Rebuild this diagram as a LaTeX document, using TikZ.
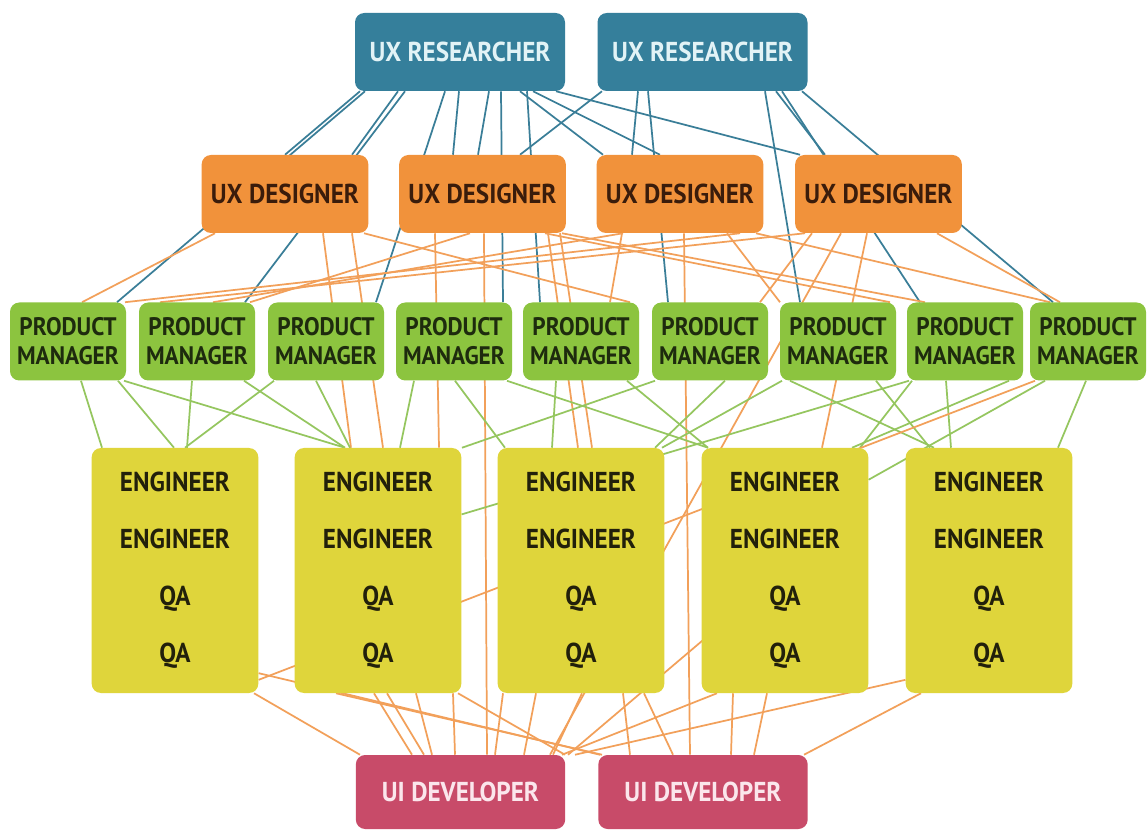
\documentclass[tikz,border=0pt]{standalone}
\usepackage{fontspec}
\newfontfamily\boxfont{PT Sans}[FakeStretch=0.92]
\pgfdeclarelayer{paper}
\pgfdeclarelayer{bg}
\pgfsetlayers{paper,bg,main}
\definecolor{cTeal}{HTML}{357F9B}
\definecolor{cTealTxt}{HTML}{E2F3F6}
\definecolor{cOrange}{HTML}{F1923B}
\definecolor{cOrangeTxt}{HTML}{3A1C0B}
\definecolor{cGreen}{HTML}{8CC43F}
\definecolor{cGreenTxt}{HTML}{1E2B0E}
\definecolor{cYellow}{HTML}{DFD53B}
\definecolor{cYellowTxt}{HTML}{22200B}
\definecolor{cPink}{HTML}{C84B69}
\definecolor{cPinkTxt}{HTML}{FBE6EC}
\definecolor{lTeal}{HTML}{3A7E98}
\definecolor{lOrange}{HTML}{F2A05A}
\definecolor{lGreen}{HTML}{95C65F}
\newcommand\Ln[5]{\draw[#1] (#3,0 |- #2.south) -- (#5,0 |- #4.north);}
\begin{document}
\begin{tikzpicture}[x=0.75pt,y=-0.75pt,
  box/.style={rounded corners=7pt, inner sep=0pt, align=center},
  uxr/.style={box, fill=cTeal, text=cTealTxt, minimum width=157.5pt, minimum height=58.5pt,
    font=\boxfont\bfseries\fontsize{20.5}{21.75}\selectfont},
  uxd/.style={box, fill=cOrange, text=cOrangeTxt, minimum width=125pt, minimum height=58.5pt,
    font=\boxfont\bfseries\fontsize{20.5}{21.75}\selectfont},
  pmbox/.style={box, fill=cGreen, text=cGreenTxt, minimum width=87pt, minimum height=58.5pt,
    font=\boxfont\bfseries\fontsize{19}{21.75}\selectfont},
  engbox/.style={box, fill=cYellow, text=cYellowTxt, minimum width=125pt, minimum height=183.75pt,
    font=\boxfont\bfseries\fontsize{20.5}{42.75}\selectfont},
  uibox/.style={box, fill=cPink, text=cPinkTxt, minimum width=157pt, minimum height=55.5pt,
    font=\boxfont\bfseries\fontsize{20.5}{21.75}\selectfont},
  tl/.style={draw=lTeal, line width=1.3pt},
  ol/.style={draw=lOrange, line width=1.3pt},
  gl/.style={draw=lGreen, line width=1.3pt}]
\useasboundingbox (0,0) rectangle (1147,830);
\begin{pgfonlayer}{paper}
\fill[white] (0,0) rectangle (1147,830);
\end{pgfonlayer}
% UX researchers
\node[uxr] (uxr1) at (460,52) {UX RESEARCHER};
\node[uxr] (uxr2) at (702.5,52) {UX RESEARCHER};
% UX designers
\node[uxd] (d1) at (285,194) {UX DESIGNER};
\node[uxd] (d2) at (482.5,194) {UX DESIGNER};
\node[uxd] (d3) at (680,194) {UX DESIGNER};
\node[uxd] (d4) at (878.5,194) {UX DESIGNER};
% Product managers
\node[pmbox] (pm1) at (68,341.5) {PRODUCT\\MANAGER};
\node[pmbox] (pm2) at (197,341.5) {PRODUCT\\MANAGER};
\node[pmbox] (pm3) at (326,341.5) {PRODUCT\\MANAGER};
\node[pmbox] (pm4) at (454,341.5) {PRODUCT\\MANAGER};
\node[pmbox] (pm5) at (581,341.5) {PRODUCT\\MANAGER};
\node[pmbox] (pm6) at (710,341.5) {PRODUCT\\MANAGER};
\node[pmbox] (pm7) at (838,341.5) {PRODUCT\\MANAGER};
\node[pmbox] (pm8) at (965,341.5) {PRODUCT\\MANAGER};
\node[pmbox] (pm9) at (1088,341.5) {PRODUCT\\MANAGER};
% Engineering teams
\node[engbox] (e1) at (175,570.5) {ENGINEER\\ENGINEER\\QA\\QA};
\node[engbox] (e2) at (378,570.5) {ENGINEER\\ENGINEER\\QA\\QA};
\node[engbox] (e3) at (581,570.5) {ENGINEER\\ENGINEER\\QA\\QA};
\node[engbox] (e4) at (785,570.5) {ENGINEER\\ENGINEER\\QA\\QA};
\node[engbox] (e5) at (989,570.5) {ENGINEER\\ENGINEER\\QA\\QA};
% UI developers
\node[uibox] (ui1) at (460.5,792) {UI DEVELOPER};
\node[uibox] (ui2) at (703,792) {UI DEVELOPER};

\begin{pgfonlayer}{bg}
% teal: researchers
\Ln{tl}{uxr1}{360}{d1}{285}
\Ln{tl}{uxr1}{365}{pm1}{117}
\Ln{tl}{uxr1}{398}{d1}{352}
\Ln{tl}{uxr1}{405}{pm2}{245}
\Ln{tl}{uxr1}{445}{pm3}{376}
\Ln{tl}{uxr1}{459}{d2}{453}
\Ln{tl}{uxr1}{489}{d2}{478}
\Ln{tl}{uxr1}{501}{pm4}{503}
\Ln{tl}{uxr1}{520}{d3}{603}
\Ln{tl}{uxr1}{527}{pm5}{540}
\Ln{tl}{uxr1}{533}{d3}{660}
\Ln{tl}{uxr1}{556}{d4}{800}
\Ln{tl}{uxr2}{602}{d2}{520}
\Ln{tl}{uxr2}{638}{d3}{632}
\Ln{tl}{uxr2}{648}{pm6}{668}
\Ln{tl}{uxr2}{765}{pm7}{800}
\Ln{tl}{uxr2}{776}{d4}{825}
\Ln{tl}{uxr2}{782}{pm8}{920}
\Ln{tl}{uxr2}{802}{pm9}{1053}
% orange: designers
\Ln{ol}{d1}{215}{pm1}{82}
\Ln{ol}{d1}{323}{e2}{351}
\Ln{ol}{d1}{352}{e2}{383}
\Ln{ol}{d1}{364}{pm5}{630}
\Ln{ol}{d2}{435}{e2}{439}
\Ln{ol}{d2}{484}{ui1}{487}
\Ln{ol}{d2}{470}{pm2}{250}
\Ln{ol}{d2}{548}{e3}{578}
\Ln{ol}{d2}{560}{e3}{592}
\Ln{ol}{d2}{545}{pm7}{890}
\Ln{ol}{d2}{562}{pm8}{925}
\Ln{ol}{d3}{623}{pm2}{213}
\Ln{ol}{d3}{740}{pm1}{125}
\Ln{ol}{d3}{622}{pm5}{610}
\Ln{ol}{d3}{684}{ui2}{690}
\Ln{ol}{d3}{727}{pm7}{780}
\Ln{ol}{d3}{756}{pm9}{1050}
\Ln{ol}{d4}{805}{pm2}{160}
\Ln{ol}{d4}{812}{pm7}{760}
\Ln{ol}{d4}{841}{ui1}{550}
\Ln{ol}{d4}{867}{e4}{822}
\Ln{ol}{d4}{937}{pm9}{1060}
% green: product managers
\Ln{gl}{pm1}{81}{e1}{102}
\Ln{gl}{pm1}{118}{e1}{174}
\Ln{gl}{pm1}{124}{e2}{345}
\Ln{gl}{pm2}{192}{e1}{187}
\Ln{gl}{pm2}{244}{e2}{345}
\Ln{gl}{pm3}{274}{e1}{185}
\Ln{gl}{pm3}{316}{e2}{350}
\Ln{gl}{pm4}{414}{e2}{400}
\Ln{gl}{pm4}{455}{e3}{505}
\Ln{gl}{pm4}{507}{e4}{708}
\Ln{gl}{pm5}{556}{e3}{552}
\Ln{gl}{pm5}{627}{e4}{708}
\Ln{gl}{pm6}{655}{e2}{462}
\Ln{gl}{pm6}{725}{e3}{655}
\Ln{gl}{pm7}{782}{e3}{662}
\Ln{gl}{pm7}{790}{e5}{934}
\Ln{gl}{pm7}{876}{e5}{930}
\draw[gl] (909,0 |- pm8.south) -- ([yshift=-50pt]e2.north east);
\Ln{gl}{pm8}{912}{e4}{860}
\Ln{gl}{pm8}{946}{e5}{951}
\Ln{gl}{pm8}{1009}{e4}{852}
\Ln{gl}{pm9}{1086}{e5}{1058}
\draw[gl] (1045,0 |- pm9.south) -- ([yshift=-24pt]e4.north east);
\draw[ol] (1035,0 |- pm9.south) -- ([yshift=-82pt]e1.east);
% orange: engineering teams to UI developers
\Ln{ol}{e1}{254}{ui1}{360}
\draw[ol] ([yshift=-77pt]e1.east) -- (600,0 |- ui2.north);
\Ln{ol}{e2}{336}{ui2}{602}
\Ln{ol}{e2}{374}{ui1}{412}
\Ln{ol}{e2}{387}{ui1}{424}
\Ln{ol}{e2}{416}{ui1}{432}
\Ln{ol}{e2}{453}{ui1}{455}
\Ln{ol}{e2}{458}{ui1}{565}
\Ln{ol}{e3}{503}{ui1}{495}
\Ln{ol}{e3}{536}{ui1}{524}
\Ln{ol}{e3}{582}{ui1}{553}
\Ln{ol}{e3}{623}{ui2}{630}
\Ln{ol}{e3}{644}{ui2}{673}
\Ln{ol}{e4}{733}{ui2}{731}
\Ln{ol}{e4}{767}{ui2}{754}
\Ln{ol}{e4}{717}{ui1}{562}
\Ln{ol}{e5}{921}{ui2}{804}
\draw[ol] ([yshift=-82pt]e5.west) -- (575,0 |- ui1.north);
\draw[ol] (e4.center) -- (568,0 |- ui1.north);
\end{pgfonlayer}
\end{tikzpicture}
\end{document}
